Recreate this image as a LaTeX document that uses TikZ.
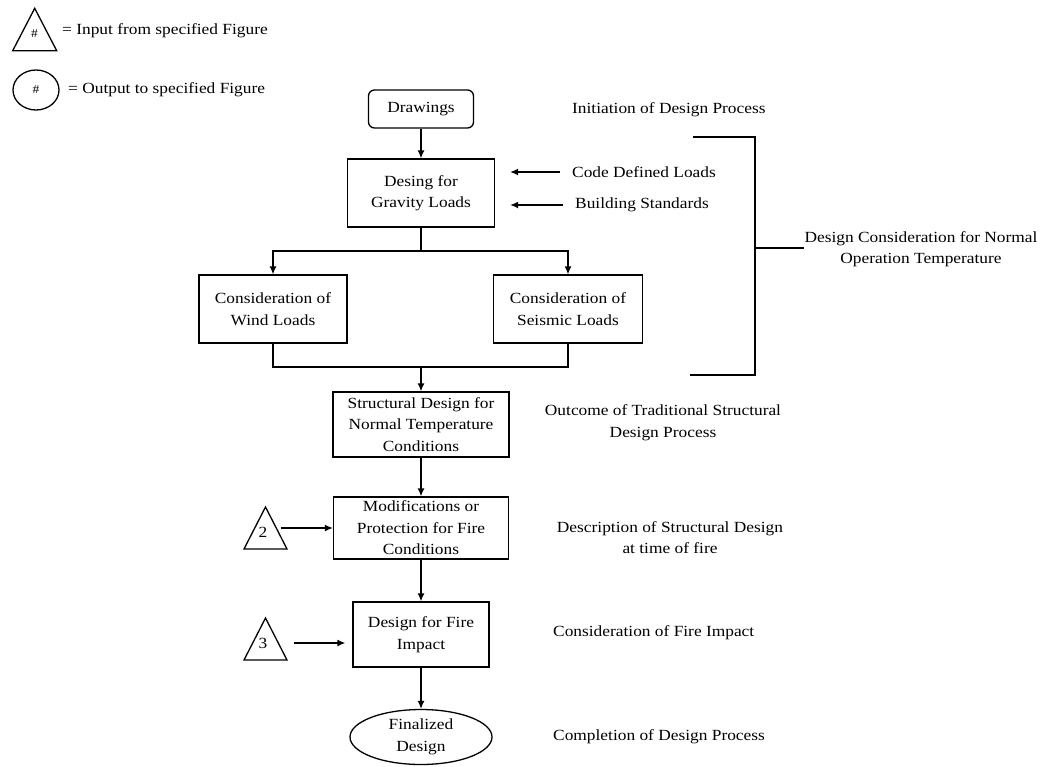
\documentclass[tikz,border=0pt]{standalone}
\usepackage{fontspec}
\setmainfont{Liberation Serif}[FakeStretch=1.12]
\usetikzlibrary{shapes.geometric,arrows.meta}
\begin{document}
\begin{tikzpicture}[x=1pt,y=-1pt,
  font=\fontsize{15.5}{21.5}\selectfont,
  box/.style={draw, line width=1.3pt, align=center, inner sep=0pt},
  lbl/.style={inner sep=0pt, anchor=west},
  clbl/.style={inner sep=0pt, align=center},
  arr/.style={-{Latex[length=8pt,width=7pt]}, line width=1.3pt},
  ln/.style={line width=1.3pt}]
\useasboundingbox (0,0) rectangle (1047,766);
% legend
\draw[ln] (12.7,50.7) -- (34.7,8.3) -- (56.7,50.7) -- cycle;
\node[inner sep=0pt, font=\fontsize{12}{13}\selectfont] (lgt) at (34.5,34) {\#};
\node[lbl] (lgtt) at (62,31) {= Input from specified Figure};
\node[draw, ellipse, line width=1.3pt, minimum width=46pt, minimum height=40pt, inner sep=0pt, font=\fontsize{12}{13}\selectfont] (lgc) at (36,90) {\#};
\node[lbl] (lgct) at (68,90) {= Output to specified Figure};
% main boxes
\node[box, rounded corners=6pt, minimum width=105pt, minimum height=38pt] (draw) at (421,109) {Drawings};
\node[box, minimum width=147pt, minimum height=68pt] (grav) at (421,193) {Desing for\\Gravity Loads};
\node[box, minimum width=148pt, minimum height=68pt] (wind) at (273,309) {Consideration of\\Wind Loads};
\node[box, minimum width=149pt, minimum height=68pt] (seis) at (568,309) {Consideration of\\Seismic Loads};
\node[box, minimum width=176pt, minimum height=65pt] (str) at (421,424.5) {Structural Design for\\Normal Temperature\\Conditions};
\node[box, minimum width=175pt, minimum height=62pt] (mod) at (421,528) {Modifications or\\Protection for Fire\\Conditions};
\node[box, minimum width=136pt, minimum height=65pt] (fire) at (421,634.5) {Design for Fire\\Impact};
\node[box, ellipse, minimum width=142pt, minimum height=55pt] (fin) at (421,737) {Finalized\\Design};
% side labels
\node[lbl] (init) at (572,110) {Initiation of Design Process};
\node[lbl] (cdl) at (572,172) {Code Defined Loads};
\node[lbl] (bst) at (575,205) {Building Standards};
\node[clbl] (dcn) at (921,249) {Design Consideration for Normal\\Operation Temperature};
\node[clbl] (otc) at (663,422.5) {Outcome of Traditional Structural\\Design Process};
\node[clbl] (desc) at (670,537.5) {Description of Structural Design\\at time of fire};
\node[lbl] (cfi) at (553,633) {Consideration of Fire Impact};
\node[lbl] (cdp) at (553,737) {Completion of Design Process};
% triangles
\draw[ln] (244,549) -- (265.5,507) -- (287,549) -- cycle;
\node[inner sep=0pt] (t2) at (263,532) {2};
\coordinate (t2a) at (281,528);
\draw[ln] (244,660) -- (265.5,618) -- (287,660) -- cycle;
\node[inner sep=0pt] (t3) at (263,643) {3};
\coordinate (t3a) at (294,643);
% connectors
\draw[arr] (draw.south) -- (grav.north);
\draw[arr, shorten >=15pt] ([xshift=-12pt]cdl.west) -- (grav.east |- cdl.west);
\draw[arr, shorten >=15pt] ([xshift=-12pt]bst.west) -- (grav.east |- bst.west);
\coordinate (br) at (421,251);
\draw[ln] (grav.south) -- (br);
\draw[arr] (br) -| (wind.north);
\draw[arr] (br) -| (seis.north);
\coordinate (mg) at (421,367);
\draw[ln] (wind.south) |- (mg);
\draw[ln] (seis.south) |- (mg);
\draw[arr] (mg) -- (str.north);
\draw[arr] (str.south) -- (mod.north);
\draw[arr] (mod.south) -- (fire.north);
\draw[arr] (fire.south) -- (fin.north);
\draw[arr] (t2a) -- (mod.west);
\draw[arr, shorten >=7pt] (t3a) -- (fire.west |- t3a);
% bracket
\coordinate (bt) at (755,137);
\coordinate (bb) at (755,375);
\draw[ln] (693,137) -- (bt) -- (bb) -- (690,375);
\draw[ln] (755,248) -- (dcn.west |- 248,248);
\end{tikzpicture}
\end{document}
